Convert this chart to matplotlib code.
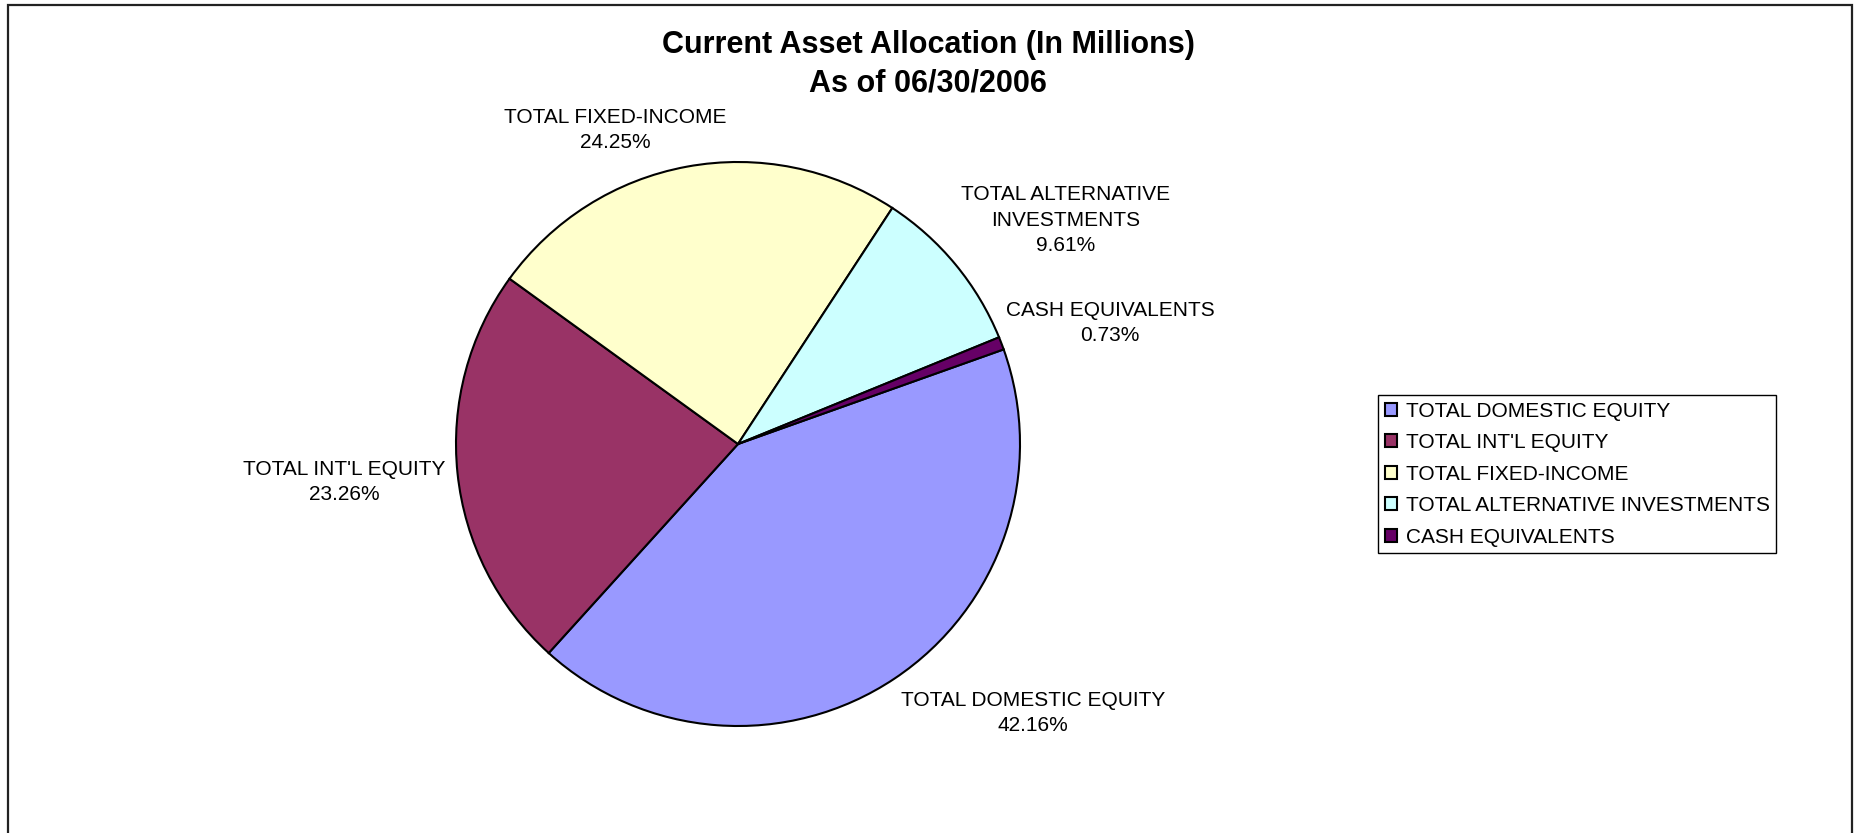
import matplotlib
matplotlib.use("Agg")
import matplotlib.pyplot as plt
from matplotlib.patches import Rectangle

plt.rcParams['font.family'] = ['Liberation Sans', 'DejaVu Sans']

# asset classes and their share of the portfolio (percent)
categories = ["TOTAL DOMESTIC EQUITY", "TOTAL INT'L EQUITY", "TOTAL FIXED-INCOME",
              "TOTAL ALTERNATIVE INVESTMENTS", "CASH EQUIVALENTS"]
label_names = ["TOTAL DOMESTIC EQUITY", "TOTAL INT'L EQUITY", "TOTAL FIXED-INCOME",
               "TOTAL ALTERNATIVE\nINVESTMENTS", "CASH EQUIVALENTS"]
shares = [42.16, 23.26, 24.25, 9.61, 0.73]
colors = ["#9999FF", "#993366", "#FFFFCC", "#CCFFFF", "#660066"]

# where each data label sits, in units of the pie radius from its centre
label_xy = [(1.045, -0.955), (-1.397, -0.135), (-0.436, 1.113),
            (1.163, 0.794), (1.319, 0.429)]

W, H = 1855, 833
fig = plt.figure(figsize=(W / 100, H / 100), dpi=100)

# outer chart border (runs off the bottom edge)
fig.patches.append(Rectangle((8 / W, -0.05), (1852 - 8) / W, 1.05 - 5 / H,
                             transform=fig.transFigure, fill=False,
                             edgecolor="#222222", linewidth=1.6))

cx, cy, r = 738, 833 - 444, 282
ax = fig.add_axes([(cx - r) / W, (cy - r) / H, 2 * r / W, 2 * r / H])
wedges, _ = ax.pie(shares, colors=colors, startangle=19.6, counterclock=False,
                   radius=1, wedgeprops=dict(edgecolor="black", linewidth=1.5))
ax.set_xlim(-1, 1)
ax.set_ylim(-1, 1)
ax.set_aspect("equal")
ax.axis("off")

for name, val, (lx, ly) in zip(label_names, shares, label_xy):
    ax.text(lx, ly, f"{name}\n{val:.2f}%", ha="center", va="center",
            fontsize=15, linespacing=1.42, clip_on=False)

fig.text(928 / W, 1 - 64.5 / H, "Current Asset Allocation (In Millions)\nAs of 06/30/2006",
         ha="center", va="center", fontsize=22, fontweight="bold", linespacing=1.35)

leg = fig.legend(wedges, categories, loc="upper left",
                 bbox_to_anchor=(1378 / W, 1 - 395 / H), borderaxespad=0,
                 fontsize=15, frameon=True, fancybox=False, framealpha=1,
                 edgecolor="black", handlelength=0.6, handleheight=0.6,
                 handletextpad=0.4, borderpad=0.32, labelspacing=0.6)
leg.get_frame().set_linewidth(1.0)
for h in leg.legend_handles:
    h.set_linewidth(1.5)

fig.savefig("out.png", dpi=100)
